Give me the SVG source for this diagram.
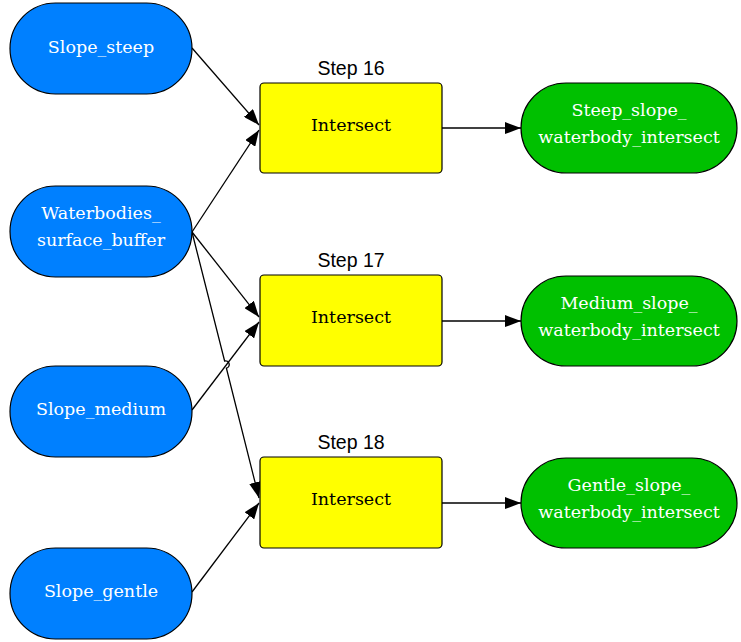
<svg xmlns="http://www.w3.org/2000/svg" width="741" height="642" viewBox="0 0 741 642">
<defs>
<marker id="ah" markerWidth="16" markerHeight="12" refX="16" refY="6" orient="auto" markerUnits="userSpaceOnUse">
<path d="M0,0 L16,6 L0,12 Z" fill="#000"/>
</marker>
<style>
.in{fill:#0080ff;stroke:#000;stroke-width:1.2}
.step{fill:#ffff00;stroke:#000;stroke-width:1.2}
.out{fill:#00c000;stroke:#000;stroke-width:1.2}
.wt{fill:#fff;font-family:"DejaVu Serif","Liberation Serif",serif;font-size:17.5px;text-anchor:middle}
.bt{fill:#000;font-family:"DejaVu Serif","Liberation Serif",serif;font-size:17.5px;text-anchor:middle}
.lbl{fill:#000;font-family:"Liberation Sans",Arial,sans-serif;font-size:19.5px;text-anchor:middle}
.e{fill:none;stroke:#000;stroke-width:1.3}
</style>
</defs>
<rect width="741" height="642" fill="#fff"/>
<g id="connectors">
<line class="e" x1="192" y1="48" x2="259" y2="125" marker-end="url(#ah)"/>
<line class="e" x1="192" y1="232" x2="259" y2="130" marker-end="url(#ah)"/>
<line class="e" x1="192" y1="232" x2="259" y2="317" marker-end="url(#ah)"/>
<line class="e" x1="192" y1="410" x2="259" y2="322" marker-end="url(#ah)"/>
<path class="e" d="M192,232 L224.6,361 A3.3,3.3 0 0 1 226.4,368.2 L259,498" marker-end="url(#ah)"/>
<line class="e" x1="192" y1="592" x2="259" y2="503" marker-end="url(#ah)"/>
<line class="e" x1="442" y1="128" x2="521" y2="128" marker-end="url(#ah)"/>
<line class="e" x1="442" y1="321" x2="521" y2="321" marker-end="url(#ah)"/>
<line class="e" x1="442" y1="503" x2="521" y2="503" marker-end="url(#ah)"/>
</g>
<g id="slope_steep">
<rect class="in" x="10" y="3" width="182" height="91" rx="45.5"/>
<text class="wt" x="101" y="53">Slope_steep</text>
</g>
<g id="waterbodies">
<rect class="in" x="10" y="186" width="182" height="91" rx="45.5"/>
<text class="wt" x="101" y="219">Waterbodies_</text>
<text class="wt" x="101" y="246">surface_buffer</text>
</g>
<g id="slope_medium">
<rect class="in" x="10" y="366" width="182" height="91" rx="45.5"/>
<text class="wt" x="101" y="415">Slope_medium</text>
</g>
<g id="slope_gentle">
<rect class="in" x="10" y="548" width="182" height="91" rx="45.5"/>
<text class="wt" x="101" y="597">Slope_gentle</text>
</g>
<g id="step16">
<text class="lbl" x="351" y="75">Step 16</text>
<rect class="step" x="260" y="83" width="182" height="90" rx="4"/>
<text class="bt" x="351" y="131">Intersect</text>
</g>
<g id="step17">
<text class="lbl" x="351" y="267">Step 17</text>
<rect class="step" x="260" y="275" width="182" height="91" rx="4"/>
<text class="bt" x="351" y="323">Intersect</text>
</g>
<g id="step18">
<text class="lbl" x="351" y="449">Step 18</text>
<rect class="step" x="260" y="457" width="182" height="91" rx="4"/>
<text class="bt" x="351" y="505">Intersect</text>
</g>
<g id="steep_out">
<rect class="out" x="521" y="83" width="216" height="90" rx="45"/>
<text class="wt" x="629" y="116">Steep_slope_</text>
<text class="wt" x="629" y="143">waterbody_intersect</text>
</g>
<g id="medium_out">
<rect class="out" x="521" y="276" width="216" height="90" rx="45"/>
<text class="wt" x="629" y="309">Medium_slope_</text>
<text class="wt" x="629" y="336">waterbody_intersect</text>
</g>
<g id="gentle_out">
<rect class="out" x="521" y="458" width="216" height="90" rx="45"/>
<text class="wt" x="629" y="491">Gentle_slope_</text>
<text class="wt" x="629" y="518">waterbody_intersect</text>
</g>
</svg>
